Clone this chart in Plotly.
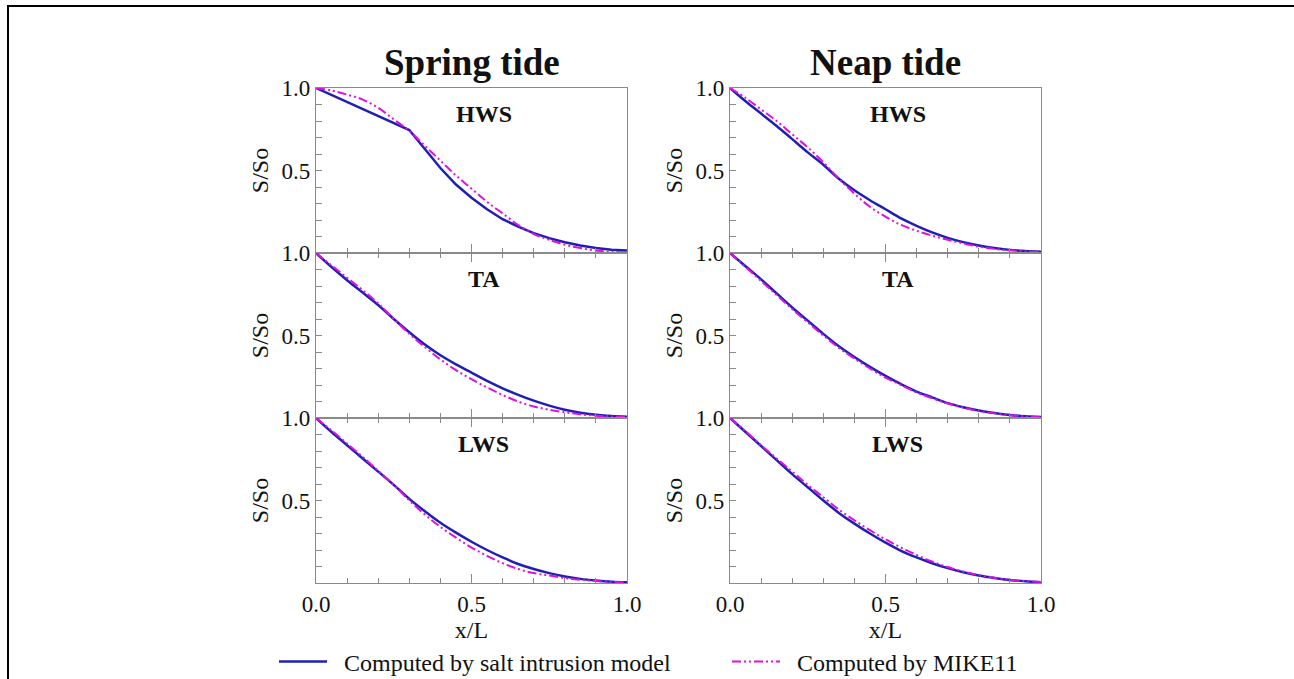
import plotly.graph_objects as go

# ---------------- data ----------------
x_L = [0.0, 0.05, 0.1, 0.15, 0.2, 0.25, 0.3, 0.35, 0.4, 0.45, 0.5,
       0.55, 0.6, 0.65, 0.7, 0.75, 0.8, 0.85, 0.9, 0.95, 1.0]

spring_hws_model = [1.0, 0.958, 0.915, 0.872, 0.83, 0.788, 0.745, 0.63, 0.515, 0.415, 0.335,
                    0.265, 0.205, 0.16, 0.12, 0.09, 0.065, 0.045, 0.03, 0.02, 0.015]
spring_hws_mike = [1.0, 0.985, 0.96, 0.93, 0.88, 0.81, 0.74, 0.65, 0.56, 0.47, 0.39,
                   0.31, 0.24, 0.17, 0.115, 0.08, 0.05, 0.03, 0.015, 0.008, 0.005]

spring_ta_model = [1.0, 0.915, 0.835, 0.76, 0.685, 0.6, 0.52, 0.445, 0.38, 0.325, 0.275,
                   0.225, 0.18, 0.14, 0.105, 0.075, 0.05, 0.032, 0.02, 0.012, 0.008]
spring_ta_mike = [1.0, 0.925, 0.85, 0.775, 0.695, 0.6, 0.51, 0.43, 0.355, 0.29, 0.235,
                  0.185, 0.14, 0.1, 0.07, 0.05, 0.035, 0.022, 0.014, 0.009, 0.006]

spring_lws_model = [1.0, 0.915, 0.835, 0.755, 0.675, 0.595, 0.51, 0.435, 0.365, 0.305, 0.25,
                    0.2, 0.155, 0.115, 0.085, 0.06, 0.04, 0.025, 0.015, 0.008, 0.005]
spring_lws_mike = [1.0, 0.925, 0.845, 0.765, 0.68, 0.595, 0.5, 0.415, 0.34, 0.275, 0.215,
                   0.165, 0.12, 0.085, 0.06, 0.045, 0.03, 0.02, 0.012, 0.007, 0.004]

neap_hws_model = [1.0, 0.92, 0.845, 0.77, 0.69, 0.61, 0.535, 0.45, 0.38, 0.32, 0.265,
                  0.21, 0.165, 0.125, 0.092, 0.066, 0.046, 0.03, 0.019, 0.012, 0.008]
neap_hws_mike = [1.0, 0.94, 0.87, 0.8, 0.72, 0.64, 0.55, 0.45, 0.36, 0.28, 0.22,
                 0.17, 0.135, 0.105, 0.08, 0.058, 0.038, 0.025, 0.016, 0.01, 0.007]

neap_ta_model = [1.0, 0.92, 0.84, 0.755, 0.67, 0.59, 0.51, 0.435, 0.37, 0.31, 0.255,
                 0.205, 0.16, 0.125, 0.09, 0.065, 0.045, 0.03, 0.018, 0.01, 0.006]
neap_ta_mike = [1.0, 0.915, 0.83, 0.745, 0.66, 0.58, 0.5, 0.425, 0.36, 0.3, 0.245,
                0.2, 0.155, 0.12, 0.088, 0.063, 0.043, 0.028, 0.017, 0.01, 0.005]

neap_lws_model = [1.0, 0.915, 0.83, 0.745, 0.66, 0.58, 0.5, 0.425, 0.36, 0.3, 0.245,
                  0.195, 0.155, 0.12, 0.09, 0.065, 0.045, 0.03, 0.018, 0.01, 0.005]
neap_lws_mike = [1.0, 0.92, 0.835, 0.755, 0.675, 0.595, 0.52, 0.445, 0.38, 0.32, 0.265,
                 0.215, 0.17, 0.13, 0.097, 0.07, 0.048, 0.032, 0.019, 0.011, 0.006]

column_titles = ["Spring tide", "Neap tide"]
panel_labels = ["HWS", "TA", "LWS"]
series_names = ["Computed by salt intrusion model", "Computed by MIKE11"]
x_tick_vals = [0.0, 0.5, 1.0]
x_tick_text = ["0.0", "0.5", "1.0"]
y_tick_vals = [0.5, 1.0]
y_tick_text = ["0.5", "1.0"]
minor_vals = [0.1, 0.2, 0.3, 0.4, 0.6, 0.7, 0.8, 0.9]

panels = [
    (spring_hws_model, spring_hws_mike, "linear"),
    (spring_ta_model, spring_ta_mike, "spline"),
    (spring_lws_model, spring_lws_mike, "spline"),
    (neap_hws_model, neap_hws_mike, "spline"),
    (neap_ta_model, neap_ta_mike, "spline"),
    (neap_lws_model, neap_lws_mike, "spline"),
]

# ---------------- layout geometry ----------------
W, H = 1294, 679
FONT = "Liberation Serif, Times New Roman, serif"
BLUE = "#1f1fb4"
MAGENTA = "#e010e0"
AXIS_COL = "#8a8a8a"
TXT = "#111111"
GAP = "\u00a0\u00a0"

col_x = [(316 / W, 627 / W), (730 / W, 1041 / W)]
row_y = [((H - 253) / H, (H - 88) / H),
         ((H - 418) / H, (H - 253) / H),
         ((H - 583) / H, (H - 418) / H)]

fig = go.Figure()

for k, (model, mike, shape) in enumerate(panels):
    idx = k + 1
    xa = "x" if idx == 1 else f"x{idx}"
    ya = "y" if idx == 1 else f"y{idx}"
    fig.add_trace(go.Scatter(
        x=x_L, y=model, xaxis=xa, yaxis=ya, mode="lines",
        line=dict(color=BLUE, width=2.5, shape=shape),
        name=GAP + series_names[0], showlegend=(k == 0), legendrank=1))
    fig.add_trace(go.Scatter(
        x=x_L, y=mike, xaxis=xa, yaxis=ya, mode="lines",
        line=dict(color=MAGENTA, width=2, dash="9px,3px,2px,3px,2px,3px", shape="spline"),
        name=GAP + series_names[1], showlegend=(k == 0), legendrank=2))

layout = {}
annotations = []
for k in range(6):
    idx = k + 1
    col = k // 3
    row = k % 3
    xkey = "xaxis" if idx == 1 else f"xaxis{idx}"
    ykey = "yaxis" if idx == 1 else f"yaxis{idx}"
    yref = "y" if idx == 1 else f"y{idx}"
    xref = "x" if idx == 1 else f"x{idx}"
    bottom = (row == 2)
    layout[xkey] = dict(
        domain=list(col_x[col]), anchor=yref, range=[0, 1],
        showline=True, linecolor=AXIS_COL, linewidth=1.2,
        mirror=("ticks" if row > 0 else True),
        showgrid=False, zeroline=False, automargin=False,
        ticks="inside", ticklen=9, tickwidth=1.2, tickcolor=AXIS_COL,
        tickmode="array", tickvals=[0.5], ticktext=[""],
        showticklabels=False,
        minor=dict(tickmode="array", tickvals=minor_vals,
                   ticks="inside", ticklen=5, tickwidth=1.2, tickcolor=AXIS_COL),
    )
    if bottom:
        layout[xkey].update(
            tickvals=x_tick_vals, ticktext=x_tick_text, showticklabels=True,
            tickfont=dict(family=FONT, size=23, color=TXT),
            title=dict(text="x/L", font=dict(family=FONT, size=24, color=TXT), standoff=4),
        )
    layout[ykey] = dict(
        domain=list(row_y[row]), anchor=xref, range=[0, 1],
        showline=True, linecolor=AXIS_COL, linewidth=1.2, mirror=True,
        showgrid=False, zeroline=False, automargin=False,
        ticks="inside", ticklen=6, tickwidth=1.2, tickcolor=AXIS_COL,
        tickmode="array", tickvals=y_tick_vals, ticktext=y_tick_text,
        tickfont=dict(family=FONT, size=23, color=TXT),
        minor=dict(tickmode="array", tickvals=minor_vals,
                   ticks="inside", ticklen=6, tickwidth=1.2, tickcolor=AXIS_COL),
        title=dict(text="S/So", font=dict(family=FONT, size=24, color=TXT), standoff=6),
    )
    annotations.append(dict(
        text=f"<b>{panel_labels[row]}</b>", xref=xref, yref=yref,
        x=0.54, y=0.845, showarrow=False, xanchor="center", yanchor="middle",
        font=dict(family=FONT, size=24, color=TXT)))

for c, title in enumerate(column_titles):
    cx = (col_x[c][0] + col_x[c][1]) / 2
    annotations.append(dict(
        text=f"<b>{title}</b>", xref="paper", yref="paper",
        x=cx, y=1 - 62 / H, showarrow=False, xanchor="center", yanchor="middle",
        font=dict(family=FONT, size=37, color=TXT)))

fig.update_layout(
    **layout,
    annotations=annotations,
    width=W, height=H,
    margin=dict(l=0, r=0, t=0, b=0, pad=0, autoexpand=False),
    paper_bgcolor="white", plot_bgcolor="white",
    showlegend=True,
    legend=dict(
        orientation="h", x=274 / W, xanchor="left", y=1 - 662 / H, yanchor="middle",
        font=dict(family=FONT, size=24, color=TXT),
        entrywidthmode="pixels", entrywidth=390,
        bgcolor="rgba(0,0,0,0)", itemwidth=48,
    ),
    shapes=[dict(type="rect", xref="paper", yref="paper",
                 x0=8 / W, x1=1.02, y0=-0.05, y1=1 - 6 / H,
                 line=dict(color="black", width=2), fillcolor="rgba(0,0,0,0)", layer="below")],
)

fig.write_html("out.html")
